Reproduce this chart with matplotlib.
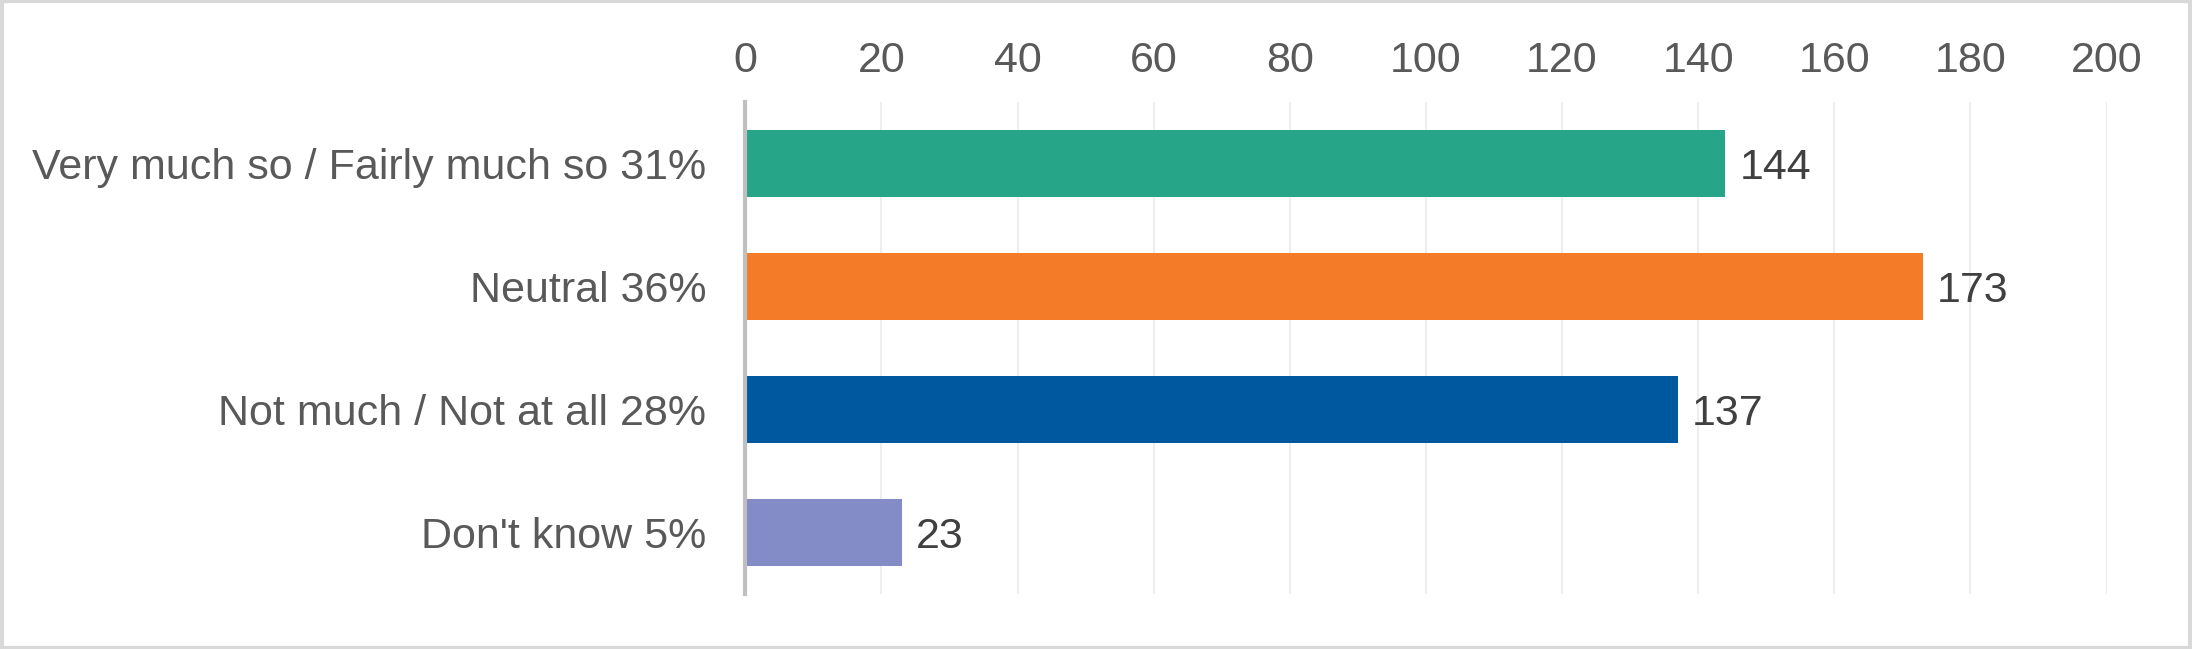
import matplotlib.pyplot as plt
from matplotlib.patches import Rectangle

# data
categories = ['Very much so / Fairly much so 31%', 'Neutral 36%',
              'Not much / Not at all 28%', "Don't know 5%"]
counts = [144, 173, 137, 23]
bar_colors = ['#27A589', '#F47B27', '#00599F', '#838CC6']
x_ticks = [0, 20, 40, 60, 80, 100, 120, 140, 160, 180, 200]

plt.rcParams['font.family'] = ['Liberation Sans', 'DejaVu Sans']
fs = 31

fig = plt.figure(figsize=(21.92, 6.49), dpi=100)
ax = fig.add_axes([0.340, 0.085, 0.621, 0.758])

pos = list(range(len(categories)))
ax.barh(pos, counts, height=0.55, color=bar_colors, zorder=3)

for p, v in zip(pos, counts):
    ax.annotate(str(v), (v, p), xytext=(10, 0), textcoords='offset points',
                va='center_baseline', ha='left', fontsize=fs, color='#404040')

ax.set_xlim(0, 200)
ax.set_ylim(len(categories) - 0.5, -0.5)
ax.set_xticks(x_ticks)
ax.set_yticks(pos)
ax.set_yticklabels(categories, va='center_baseline')
ax.xaxis.tick_top()
ax.tick_params(axis='x', length=0, pad=15, labelsize=fs, colors='#595959')
ax.tick_params(axis='y', length=0, pad=28, labelsize=fs, colors='#595959')

ax.grid(axis='x', color='#EEEEEE', linewidth=1.5, zorder=0)
for s in ['top', 'right', 'bottom']:
    ax.spines[s].set_visible(False)
ax.spines['left'].set_color('#BFBFBF')
ax.spines['left'].set_linewidth(3)
ax.spines['left'].set_zorder(4)

# light frame around the whole chart
fig.patches.append(Rectangle((0.001, 0.002), 0.998, 0.996, transform=fig.transFigure,
                             fill=False, edgecolor='#D9D9D9', linewidth=3))

fig.savefig('out.png', dpi=100)
